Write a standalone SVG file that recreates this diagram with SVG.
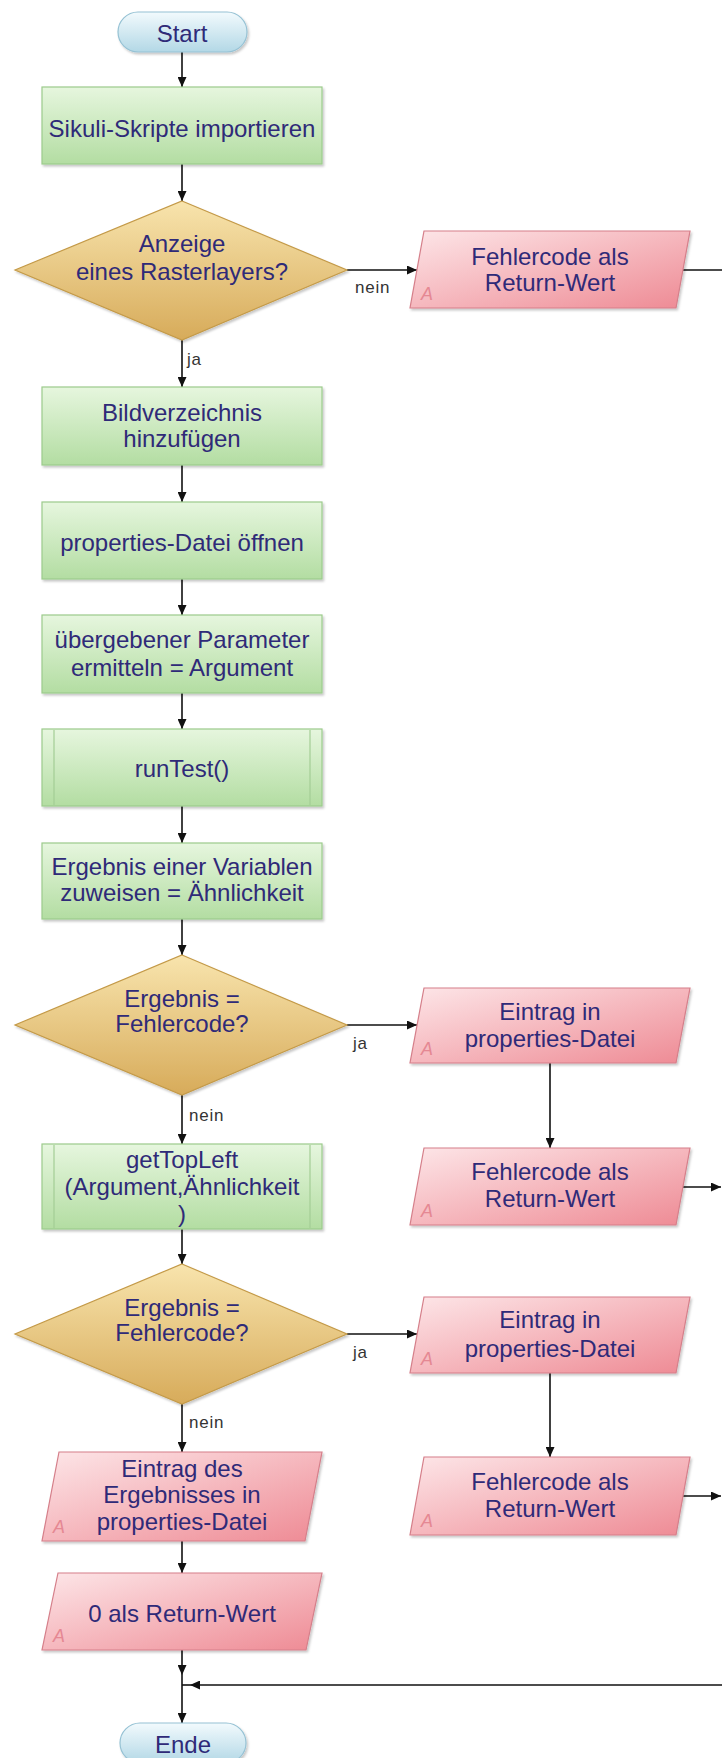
<svg xmlns="http://www.w3.org/2000/svg" width="722" height="1758" viewBox="0 0 722 1758">
  <defs>
    <linearGradient id="gTerm" x1="0" y1="0" x2="0" y2="1">
      <stop offset="0" stop-color="#f2fafd"/>
      <stop offset="1" stop-color="#b3d8e6"/>
    </linearGradient>
    <linearGradient id="gProc" x1="0" y1="0" x2="0" y2="1">
      <stop offset="0" stop-color="#e6f6de"/>
      <stop offset="1" stop-color="#b3dda2"/>
    </linearGradient>
    <linearGradient id="gDec" x1="0" y1="0" x2="0" y2="1">
      <stop offset="0" stop-color="#f8e4ad"/>
      <stop offset="1" stop-color="#d7ab5a"/>
    </linearGradient>
    <linearGradient id="gIO" x1="0" y1="0" x2="1" y2="1">
      <stop offset="0" stop-color="#fde6e8"/>
      <stop offset="1" stop-color="#ee8a94"/>
    </linearGradient>
    <filter id="shadow" x="-5%" y="-5%" width="112%" height="120%">
      <feDropShadow dx="1.5" dy="2" stdDeviation="1.2" flood-color="#000" flood-opacity="0.22"/>
    </filter>
    <marker id="arrow" markerUnits="userSpaceOnUse" markerWidth="10" markerHeight="9" viewBox="0 0 10 9" refX="10" refY="4.5" orient="auto">
      <path d="M0,0 L10,4.5 L0,9 z" fill="#111"/>
    </marker>
  </defs>
  <style>
    .t { font-family: "Liberation Sans", Arial, sans-serif; font-size: 24px; fill: #2f2a78; text-anchor: middle; }
    .lbl { font-family: "Liberation Sans", Arial, sans-serif; font-size: 17px; fill: #333; letter-spacing: 0.8px; }
    .a { font-family: "Liberation Sans", Arial, sans-serif; font-size: 18px; font-style: italic; fill: #e58893; }
    .edge { stroke: #111; stroke-width: 1.6; fill: none; }
    .term { fill: url(#gTerm); stroke: #96c2d4; stroke-width: 1.2; filter: url(#shadow); }
    .proc { fill: url(#gProc); stroke: #9ccb8c; stroke-width: 1.2; filter: url(#shadow); }
    .bar { stroke: #a3cd95; stroke-width: 1.2; }
    .dec { fill: url(#gDec); stroke: #c49a48; stroke-width: 1.2; filter: url(#shadow); }
    .io { fill: url(#gIO); stroke: #d57f8a; stroke-width: 1.2; filter: url(#shadow); }
  </style>

  <rect width="722" height="1758" fill="#fff"/>

  <!-- connectors -->
  <g id="connectors">
    <path class="edge" d="M182,52 V87" marker-end="url(#arrow)"/>
    <path class="edge" d="M182,164 V201" marker-end="url(#arrow)"/>
    <path class="edge" d="M347,270 H417" marker-end="url(#arrow)"/>
    <path class="edge" d="M683,270 H722"/>
    <path class="edge" d="M182,340 V387" marker-end="url(#arrow)"/>
    <path class="edge" d="M182,465 V502" marker-end="url(#arrow)"/>
    <path class="edge" d="M182,579 V615" marker-end="url(#arrow)"/>
    <path class="edge" d="M182,693 V729" marker-end="url(#arrow)"/>
    <path class="edge" d="M182,806 V843" marker-end="url(#arrow)"/>
    <path class="edge" d="M182,919 V955" marker-end="url(#arrow)"/>
    <path class="edge" d="M347,1025 H417" marker-end="url(#arrow)"/>
    <path class="edge" d="M182,1095 V1144" marker-end="url(#arrow)"/>
    <path class="edge" d="M550,1063 V1148" marker-end="url(#arrow)"/>
    <path class="edge" d="M683,1187 H721" marker-end="url(#arrow)"/>
    <path class="edge" d="M182,1229 V1264" marker-end="url(#arrow)"/>
    <path class="edge" d="M347,1334 H417" marker-end="url(#arrow)"/>
    <path class="edge" d="M182,1404 V1452" marker-end="url(#arrow)"/>
    <path class="edge" d="M550,1373 V1457" marker-end="url(#arrow)"/>
    <path class="edge" d="M683,1496 H721" marker-end="url(#arrow)"/>
    <path class="edge" d="M182,1541 V1573" marker-end="url(#arrow)"/>
    <path class="edge" d="M182,1650 V1675" marker-end="url(#arrow)"/>
    <path class="edge" d="M182,1675 V1723" marker-end="url(#arrow)"/>
    <path class="edge" d="M722,1685 H190" marker-end="url(#arrow)"/>
    <path class="edge" d="M190,1685 H182"/>
    <text class="lbl" x="355" y="293">nein</text>
    <text class="lbl" x="187" y="365">ja</text>
    <text class="lbl" x="353" y="1049">ja</text>
    <text class="lbl" x="189" y="1121">nein</text>
    <text class="lbl" x="353" y="1358">ja</text>
    <text class="lbl" x="189" y="1428">nein</text>
  </g>

  <g id="start">
    <rect class="term" x="118" y="12" width="129" height="40" rx="20"/>
    <text class="t" x="182" y="42">Start</text>
  </g>

  <g id="import-scripts">
    <rect class="proc" x="42" y="87" width="280" height="77"/>
    <text class="t" x="182" y="137">Sikuli-Skripte importieren</text>
  </g>

  <g id="raster-check">
    <polygon class="dec" points="182,201 347,270 182,340 15,270"/>
    <text class="t" x="182" y="252">Anzeige</text>
    <text class="t" x="182" y="280">eines Rasterlayers?</text>
  </g>

  <g id="error-return-1">
    <polygon class="io" points="424,231 690,231 676,308 410,308"/>
    <text class="a" x="421" y="300">A</text>
    <text class="t" x="550" y="265">Fehlercode als</text>
    <text class="t" x="550" y="291">Return-Wert</text>
  </g>

  <g id="add-image-dir">
    <rect class="proc" x="42" y="387" width="280" height="78"/>
    <text class="t" x="182" y="421">Bildverzeichnis</text>
    <text class="t" x="182" y="447">hinzufügen</text>
  </g>

  <g id="open-properties">
    <rect class="proc" x="42" y="502" width="280" height="77"/>
    <text class="t" x="182" y="551">properties-Datei öffnen</text>
  </g>

  <g id="get-argument">
    <rect class="proc" x="42" y="615" width="280" height="78"/>
    <text class="t" x="182" y="648">übergebener Parameter</text>
    <text class="t" x="182" y="676">ermitteln = Argument</text>
  </g>

  <g id="run-test">
    <rect class="proc" x="42" y="729" width="280" height="77"/>
    <line class="bar" x1="54" y1="730" x2="54" y2="805"/>
    <line class="bar" x1="310" y1="730" x2="310" y2="805"/>
    <text class="t" x="182" y="777">runTest()</text>
  </g>

  <g id="assign-similarity">
    <rect class="proc" x="42" y="843" width="280" height="76"/>
    <text class="t" x="182" y="875">Ergebnis einer Variablen</text>
    <text class="t" x="182" y="901">zuweisen = Ähnlichkeit</text>
  </g>

  <g id="error-check-1">
    <polygon class="dec" points="182,955 347,1025 182,1095 15,1025"/>
    <text class="t" x="182" y="1007">Ergebnis =</text>
    <text class="t" x="182" y="1032">Fehlercode?</text>
  </g>

  <g id="write-properties-1">
    <polygon class="io" points="424,988 690,988 676,1063 410,1063"/>
    <text class="a" x="421" y="1055">A</text>
    <text class="t" x="550" y="1020">Eintrag in</text>
    <text class="t" x="550" y="1047">properties-Datei</text>
  </g>

  <g id="error-return-2">
    <polygon class="io" points="424,1148 690,1148 676,1225 410,1225"/>
    <text class="a" x="421" y="1217">A</text>
    <text class="t" x="550" y="1180">Fehlercode als</text>
    <text class="t" x="550" y="1207">Return-Wert</text>
  </g>

  <g id="get-top-left">
    <rect class="proc" x="42" y="1144" width="280" height="85"/>
    <line class="bar" x1="54" y1="1145" x2="54" y2="1228"/>
    <line class="bar" x1="310" y1="1145" x2="310" y2="1228"/>
    <text class="t" x="182" y="1168">getTopLeft</text>
    <text class="t" x="182" y="1195">(Argument,Ähnlichkeit</text>
    <text class="t" x="182" y="1222">)</text>
  </g>

  <g id="error-check-2">
    <polygon class="dec" points="182,1264 347,1334 182,1404 15,1334"/>
    <text class="t" x="182" y="1316">Ergebnis =</text>
    <text class="t" x="182" y="1341">Fehlercode?</text>
  </g>

  <g id="write-properties-2">
    <polygon class="io" points="424,1297 690,1297 676,1373 410,1373"/>
    <text class="a" x="421" y="1365">A</text>
    <text class="t" x="550" y="1328">Eintrag in</text>
    <text class="t" x="550" y="1357">properties-Datei</text>
  </g>

  <g id="error-return-3">
    <polygon class="io" points="424,1457 690,1457 676,1535 410,1535"/>
    <text class="a" x="421" y="1527">A</text>
    <text class="t" x="550" y="1490">Fehlercode als</text>
    <text class="t" x="550" y="1517">Return-Wert</text>
  </g>

  <g id="write-result">
    <polygon class="io" points="59,1452 322,1452 305,1541 42,1541"/>
    <text class="a" x="53" y="1533">A</text>
    <text class="t" x="182" y="1477">Eintrag des</text>
    <text class="t" x="182" y="1503">Ergebnisses in</text>
    <text class="t" x="182" y="1530">properties-Datei</text>
  </g>

  <g id="success-return">
    <polygon class="io" points="58,1573 322,1573 306,1650 42,1650"/>
    <text class="a" x="53" y="1642">A</text>
    <text class="t" x="182" y="1622">0 als Return-Wert</text>
  </g>

  <g id="end">
    <rect class="term" x="120" y="1723" width="126" height="40" rx="20"/>
    <text class="t" x="183" y="1753">Ende</text>
  </g>
</svg>
